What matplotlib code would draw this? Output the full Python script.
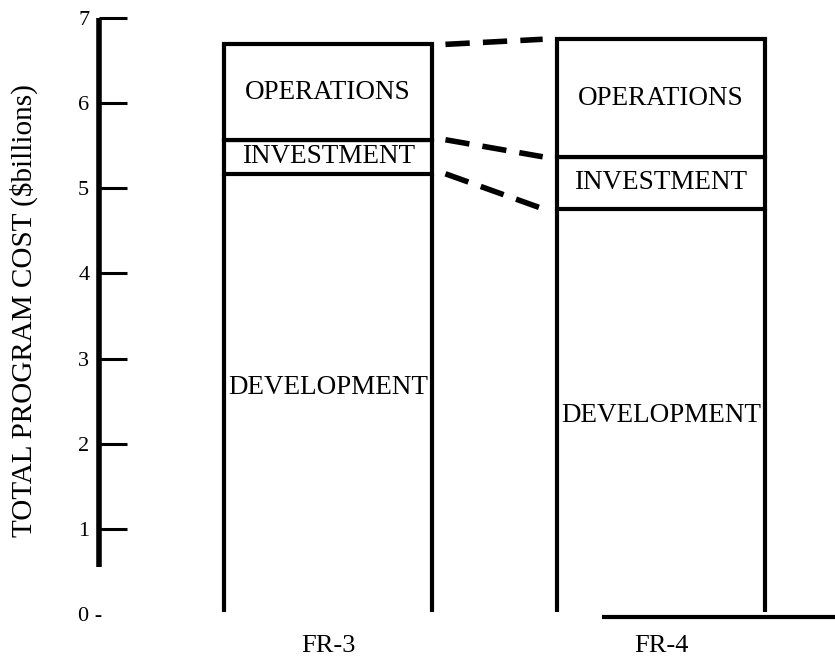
import matplotlib
matplotlib.use("Agg")
import matplotlib.pyplot as plt
import matplotlib.transforms as mtransforms
import numpy as np

plt.rcParams['font.family'] = ['Liberation Serif', 'DejaVu Serif']
plt.rcParams['lines.scale_dashes'] = False

# data ($ billions)
programs = ["FR-3", "FR-4"]
segments = ["DEVELOPMENT", "INVESTMENT", "OPERATIONS"]
development = [5.17, 4.76]
investment = [0.40, 0.61]
operations = [1.12, 1.38]
dev_label_y = [2.66, 2.33]
yticks = [0, 1, 2, 3, 4, 5, 6, 7]
ytick_labels = ["0 -", "1", "2", "3", "4", "5", "6", "7"]

x = np.arange(len(programs))
width = 0.625
lw = 3.0

fig = plt.figure(figsize=(8.35, 6.61), dpi=100)
ax = fig.add_axes([0.1186, 0.0711, 0.8814, 0.9017])
ax.set_xlim(-0.688, 1.5225)
ax.set_ylim(0, 7)

dev = np.array(development)
inv_top = dev + np.array(investment)
tot = inv_top + np.array(operations)

# closed boxes for investment and operations
ax.bar(x, investment, width, bottom=dev, facecolor="white", edgecolor="black",
       linewidth=lw, zorder=3)
ax.bar(x, operations, width, bottom=inv_top, facecolor="white", edgecolor="black",
       linewidth=lw, zorder=3)
# development is open at the bottom: just the two sides
for xi, d in zip(x, dev):
    ax.vlines([xi - width / 2, xi + width / 2], 0.02, d, color="black",
              linewidth=lw, zorder=3, clip_on=False)

# dashed connectors between the two columns
x0 = x[0] + width / 2 + 0.04
x1 = x[1] - width / 2 - 0.043
for levels in (dev, inv_top, tot):
    ax.plot([x0, x1], [levels[0], levels[1]], color="black", linewidth=4,
            linestyle=(0, (17.5, 9.5)), dash_capstyle="butt")

# ground line under FR-4
ax.hlines(-0.04, 0.823, 1.5225, color="black", linewidth=3.0,
          clip_on=False, zorder=4)

# segment labels
for i in range(len(programs)):
    ax.text(x[i], (inv_top[i] + tot[i]) / 2, segments[2], ha="center", va="center",
            fontsize=19.5)
    ax.text(x[i], (dev[i] + inv_top[i]) / 2, segments[1], ha="center", va="center",
            fontsize=19.5)
    ax.text(x[i], dev_label_y[i], segments[0], ha="center", va="center",
            fontsize=19.5)
    ax.text(x[i], -0.37, programs[i], ha="center", va="center", fontsize=19)

# axes styling
for s in ("top", "right", "bottom"):
    ax.spines[s].set_visible(False)
ax.spines["left"].set_linewidth(4)
ax.spines["left"].set_bounds(0.55, 7)
ax.spines["left"].set_capstyle("butt")
ax.set_xticks([])
ax.set_yticks(yticks)
ax.set_yticklabels(ytick_labels, fontsize=16)
ax.tick_params(axis="y", direction="in", length=20, width=2.2, pad=7)
zero_tick = ax.yaxis.get_major_ticks()[0]
zero_tick.tick1line.set_visible(False)
zero_tick.label1.set_transform(zero_tick.label1.get_transform()
                               + mtransforms.ScaledTranslation(0.13, 0, fig.dpi_scale_trans))
fig.text(24 / 835, 1 - 311 / 661, "TOTAL PROGRAM COST ($billions)", rotation=90,
         ha="center", va="center", fontsize=21)

fig.savefig("out.png", dpi=100)
